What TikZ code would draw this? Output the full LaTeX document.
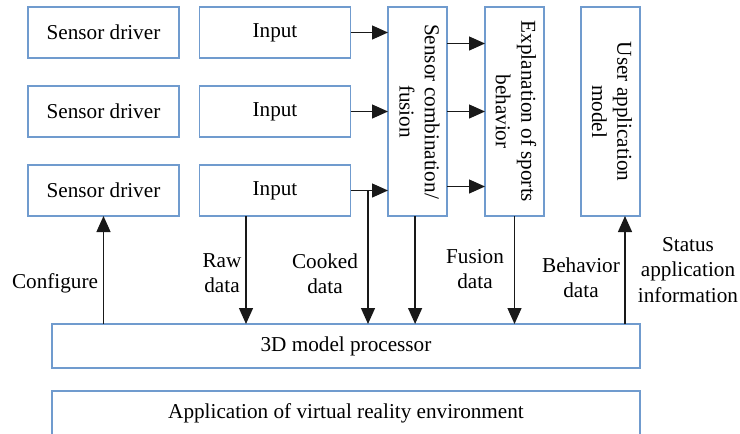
\documentclass[tikz,border=0pt]{standalone}
\usepackage{fontspec}
\setmainfont{Liberation Serif}
\usetikzlibrary{arrows.meta}
\definecolor{boxblue}{RGB}{112,155,206}

\begin{document}
\begin{tikzpicture}[
    x=0.5pt, y=-0.5pt,
    >={Triangle[length=8pt,width=7pt]},
    font=\fontsize{10.6}{12.7}\selectfont,
    hbox/.style ={draw=boxblue, line width=0.6pt, inner sep=0pt, outer sep=0pt,
                  minimum width=75.5pt, minimum height=25.5pt},
    vbox/.style ={draw=boxblue, line width=0.6pt, inner sep=0pt, outer sep=0pt,
                  minimum width=29.5pt, minimum height=104.5pt},
    wbox/.style ={draw=boxblue, line width=0.6pt, inner sep=0pt, outer sep=0pt,
                  minimum width=294pt, minimum height=22pt},
    vtxt/.style ={rotate=-90, align=center, inner sep=0pt},
    lbl/.style  ={align=center, inner sep=0pt},
    flow/.style ={->, line width=0.65pt, draw=black!90},
  ]
  \clip (0,0) rectangle (740,434);

  % --- drivers and inputs ---
  \node[hbox] (sd1) at (103.5,32.5)  {Sensor driver};
  \node[hbox] (sd2) at (103.5,111.5) {Sensor driver};
  \node[hbox] (sd3) at (103.5,190.5) {Sensor driver};
  \node[hbox] (in1) at (275,32.5)    {Input};
  \node[hbox] (in2) at (275,111.5)   {Input};
  \node[hbox] (in3) at (275,190.5)   {Input};

  % --- vertical blocks ---
  \node[vbox] (comb) at (417.5,111.5) {};
  \node[vtxt] (combtxt) at (419.5,111.5) {Sensor combination/\\fusion};
  \node[vbox] (expl) at (514.5,111.5) {};
  \node[vtxt] (expltxt) at (516,111.5) {Explanation of sports\\behavior};
  \node[vbox] (user) at (610.5,111.5) {};
  \node[vtxt] (usertxt) at (612,111.5) {User application\\model};

  % --- bottom layers ---
  \node[wbox] (proc) at (346,346) {3D model processor};
  \node[wbox, minimum height=22.5pt] (app) at (346,413.5) {Application of virtual reality environment};

  % --- connectors ---
  \draw[flow] (in1) -- (in1 -| comb.west);
  \draw[flow] (in2) -- (in2 -| comb.west);
  \draw[flow] (in3) -- (in3 -| comb.west);
  \draw[flow] ([yshift=34pt]comb.east) -- ([yshift=34pt]expl.west);
  \draw[flow] (comb.east) -- (expl.west);
  \draw[flow] ([yshift=-37.5pt]comb.east) -- ([yshift=-37.5pt]expl.west);

  \coordinate (ck) at (368,190.5);
  \draw[flow] ([xshift=-14.5pt]in3.south) -- ([xshift=-14.5pt]in3.south |- proc.north);
  \draw[flow] (ck) -- (ck |- proc.north);
  \draw[flow] ([xshift=-1.2pt]comb.south) -- ([xshift=-1.2pt]comb.south |- proc.north);
  \draw[flow] (expl.south) -- (expl.south |- proc.north);
  \draw[flow] (sd3.south |- proc.north) -- (sd3.south);
  \draw[flow] ([xshift=7.25pt]user.south |- proc.north) -- ([xshift=7.25pt]user.south);

  % --- labels ---
  \node[lbl] (lcfg) at (55,283)   {Configure};
  \node[lbl] (lraw) at (222,273)  {Raw\\data};
  \node[lbl] (lck)  at (325,274)  {Cooked\\data};
  \node[lbl] (lfus) at (475,269)  {Fusion\\data};
  \node[lbl] (lbeh) at (581,278)  {Behavior\\data};
  \node[lbl] (lsta) at (688,270)  {Status\\application\\information};
\end{tikzpicture}
\end{document}
